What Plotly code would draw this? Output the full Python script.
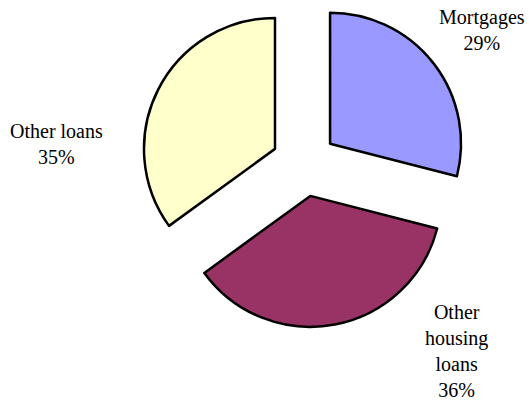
import plotly.graph_objects as go

# Loan portfolio shares (%)
categories = ["Mortgages", "Other housing loans", "Other loans"]
shares = [29, 36, 35]
# how each category label is broken over lines beside its slice
label_lines = [["Mortgages"], ["Other", "housing", "loans"], ["Other loans"]]
colors = ["#9999FF", "#993366", "#FFFFCC"]

W, H = 529, 406
FONT = "'Times New Roman', Times, 'Liberation Serif', 'DejaVu Serif', serif"

fig = go.Figure(
    go.Pie(
        labels=categories,
        values=shares,
        sort=False,
        direction="clockwise",
        rotation=0,
        pull=[0.25] * len(shares),
        marker=dict(colors=colors, line=dict(color="#000000", width=2.5)),
        textinfo="none",
        hoverinfo="label+percent",
        showlegend=False,
        domain=dict(x=[0.265, 0.885], y=[0.1934, 1.0]),
    )
)

# label anchors in pixels (centre of each text block)
label_pos = [(482, 30), (456, 351), (56, 144)]
for lines, val, (px, py) in zip(label_lines, shares, label_pos):
    fig.add_annotation(
        text="<br>".join(lines + [f"{val}%"]),
        x=px / W,
        y=1 - py / H,
        xref="paper",
        yref="paper",
        xanchor="center",
        yanchor="middle",
        showarrow=False,
        align="center",
        font=dict(family=FONT, size=20, color="#000000"),
    )

fig.update_layout(
    width=W,
    height=H,
    margin=dict(l=0, r=0, t=0, b=0),
    paper_bgcolor="#FFFFFF",
    plot_bgcolor="#FFFFFF",
    font=dict(family=FONT),
)

fig.write_html("out.html")
